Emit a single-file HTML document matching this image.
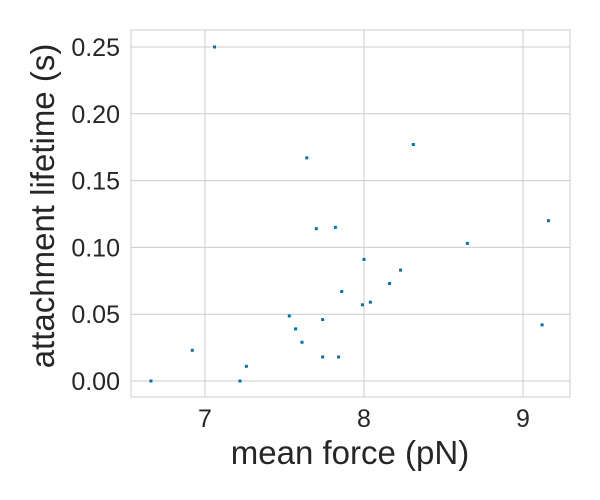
<!DOCTYPE html>
<html><head><meta charset="utf-8"><style>
body{margin:0;background:#fff;}
svg{display:block;font-family:"Liberation Sans","DejaVu Sans",sans-serif;}
</style></head><body>
<svg id="chart" width="600" height="500"></svg>
<script>
const forces=[6.66,6.92,7.06,7.22,7.26,7.53,7.57,7.61,7.64,7.70,7.74,7.74,7.82,7.84,7.86,8.00,7.99,8.04,8.16,8.23,8.31,8.65,9.12,9.16];
const lifetimes=[0,0.023,0.25,0,0.011,0.0487,0.039,0.029,0.167,0.114,0.046,0.018,0.115,0.018,0.067,0.091,0.057,0.059,0.073,0.083,0.177,0.103,0.042,0.120];
const xTicks=[7,8,9];
const yTicks=[0,0.05,0.10,0.15,0.20,0.25];
const yTickLabels=["0.00","0.05","0.10","0.15","0.20","0.25"];

const NS="http://www.w3.org/2000/svg";
const svg=document.getElementById('chart');
const L=131,R=570,T=30,B=397;
const xs=v=>205+(v-7)*159;
const ys=v=>381-v*1336;
function mk(tag,attrs,parent){const e=document.createElementNS(NS,tag);for(const k in attrs)e.setAttribute(k,attrs[k]);(parent||svg).appendChild(e);return e;}

const grid=mk('g',{});


xTicks.forEach(t=>{const l=mk('line',{x1:xs(t),x2:xs(t),y1:T,y2:B,stroke:'#cccccc','stroke-width':1},grid);

});
yTicks.forEach(t=>{const l=mk('line',{x1:L,x2:R,y1:ys(t),y2:ys(t),stroke:'#cccccc','stroke-width':1},grid);

});

const frame=mk('rect',{x:L,y:T,width:R-L,height:B-T,fill:'none',stroke:'#cccccc','stroke-width':1});



xTicks.forEach(t=>{const tx=mk('text',{x:xs(t),y:427,'text-anchor':'middle','font-size':25,fill:'#262626'});tx.textContent=t;

});
yTicks.forEach((t,i)=>{const tx=mk('text',{x:120,y:ys(t)+9,'text-anchor':'end','font-size':25,fill:'#262626'});tx.textContent=yTickLabels[i];

});

const xt=mk('text',{x:350,y:464,'text-anchor':'middle','font-size':33,fill:'#262626'});xt.textContent='mean force (pN)';


const yt=mk('text',{x:0,y:0,'text-anchor':'middle','font-size':33,fill:'#262626',transform:'translate(54,206) rotate(-90)'});yt.textContent='attachment lifetime (s)';



const pts=mk('g',{});


forces.forEach((f,i)=>{const p=mk('rect',{x:xs(f)-1.5,y:ys(lifetimes[i])-1.5,width:3,height:3,fill:'#0072b2'},pts);

});
</script>
</body></html>
